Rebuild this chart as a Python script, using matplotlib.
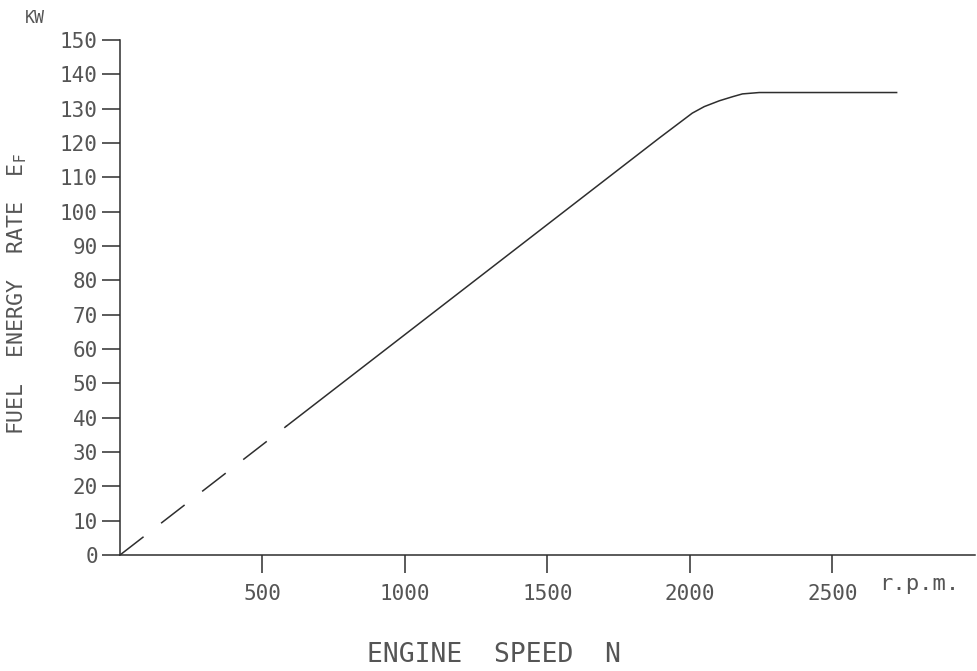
import matplotlib
matplotlib.use('Agg')
import matplotlib.pyplot as plt

# engine speed (rpm) and fuel energy rate (kW)
rpm_dashed = [0, 585]
kw_dashed = [0, 37.6]
rpm_solid = [585, 1893, 2008, 2050, 2103, 2150, 2184, 2243, 2725]
kw_solid = [37.6, 121.5, 128.7, 130.6, 132.3, 133.5, 134.3, 134.7, 134.7]

x_ticks = [500, 1000, 1500, 2000, 2500]
y_ticks = list(range(0, 151, 10))

ink = '#2e2e2e'
txt = '#555555'
plt.rcParams['font.family'] = ['DejaVu Sans Mono', 'DejaVu Sans']

fig = plt.figure(figsize=(9.78, 6.71), dpi=100)
ax = fig.add_axes([120 / 978, 116 / 671, 855 / 978, 515 / 671])

ax.plot(rpm_dashed, kw_dashed, color=ink, lw=1.1, dashes=(19.5, 14.5))
ax.plot(rpm_solid, kw_solid, color=ink, lw=1.1)

ax.set_xlim(0, 3000)
ax.set_ylim(0, 150)

for s in ['top', 'right']:
    ax.spines[s].set_visible(False)
for s in ['left', 'bottom']:
    ax.spines[s].set_color(ink)
    ax.spines[s].set_linewidth(1.1)

ax.set_xticks(x_ticks)
ax.set_yticks(y_ticks)
ax.tick_params(axis='y', direction='out', length=13, width=1.1, color=ink,
               pad=3, labelsize=15, labelcolor=txt)
ax.tick_params(axis='x', direction='out', length=13, width=1.1, color=ink,
               pad=8, labelsize=15, labelcolor=txt)

ax.text(2665, -8.5, 'r.p.m.', fontsize=16, color=txt, ha='left', va='center',
        clip_on=False)

fig.text(25 / 978, 1 - 18 / 671, 'KW', fontsize=12, color=txt,
         ha='left', va='center')
fig.text(17 / 978, 1 - 294 / 671, 'FUEL  ENERGY  RATE  E$_\\mathrm{F}$',
         fontsize=15.5, color=txt, rotation=90, ha='center', va='center')
fig.text(494 / 978, 1 - 655 / 671, 'ENGINE  SPEED  N', fontsize=19,
         color=txt, ha='center', va='center')

fig.savefig('out.png', dpi=100)
